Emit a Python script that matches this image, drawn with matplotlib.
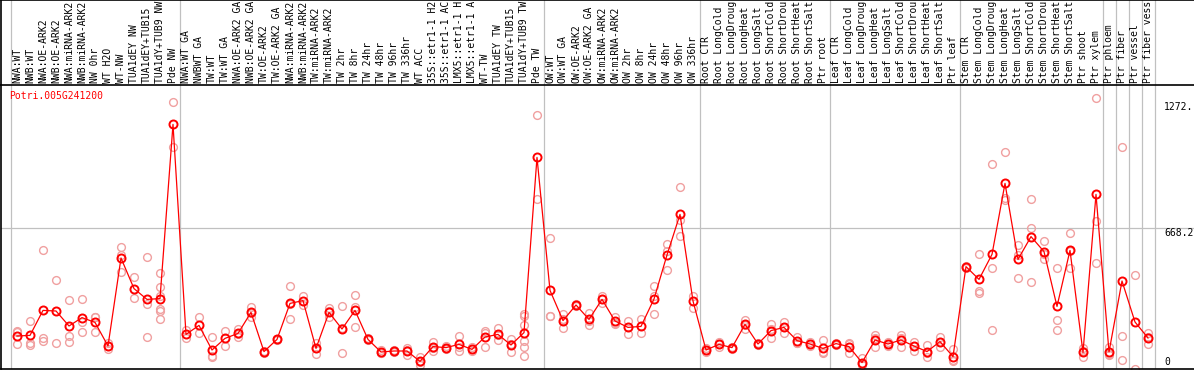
"""Expression profile of Potri.005G241200 across poplar samples."""

import matplotlib

matplotlib.use("Agg")
import matplotlib.pyplot as plt
import numpy as np

W, H = 1194, 370

GENE = "Potri.005G241200"

labels = [
    "NWA:WT", "NWB:WT", "NWA:OE-ARK2", "NWB:OE-ARK2", "NWA:miRNA-ARK2", "NWB:miRNA-ARK2",
    "NW 0hr", "WT H2O", "WT-NW", "TUA1dEY NW", "TUA1dEY+TUB15", "TUA1dY+TUB9 NW", "Pde NW",
    "NWA:WT GA", "NWBWT GA", "TW:WT", "TW:WT GA", "NWA:OE-ARK2 GA", "NWB:OE-ARK2 GA",
    "TW:OE-ARK2", "TW:OE-ARK2 GA", "NWA:miRNA-ARK2", "NWB:miRNA-ARK2", "TW:miRNA-ARK2",
    "TW:miRNA-ARK2", "TW 2hr", "TW 8hr", "TW 24hr", "TW 48hr", "TW 96hr", "TW 336hr",
    "WT ACC", "35S::etr1-1 H2", "35S::etr1-1 AC", "LMX5::etr1-1 H", "LMX5::etr1-1 A",
    "WT-TW", "TUA1dEY TW", "TUA1dEY+TUB15", "TUA1dY+TUB9 TW", "Pde TW",
    "OW:WT", "OW:WT GA", "OW:OE-ARK2", "OW:OE-ARK2 GA", "OW:miRNA-ARK2", "OW:miRNA-ARK2",
    "OW 2hr", "OW 8hr", "OW 24hr", "OW 48hr", "OW 96hr", "OW 336hr",
    "Root CTR", "Root LongCold", "Root LongDroug", "Root LongHeat", "Root LongSalt",
    "Root ShortCold", "Root ShortDrou", "Root ShortHeat", "Root ShortSalt", "Ptr root",
    "Leaf CTR", "Leaf LongCold", "Leaf LongDroug", "Leaf LongHeat", "Leaf LongSalt",
    "Leaf ShortCold", "Leaf ShortDrou", "Leaf ShortHeat", "Leaf ShortSalt", "Ptr leaf",
    "Stem CTR", "Stem LongCold", "Stem LongDroug", "Stem LongHeat", "Stem LongSalt",
    "Stem ShortCold", "Stem ShortDrou", "Stem ShortHeat", "Stem ShortSalt", "Ptr shoot",
    "Ptr xylem", "Ptr phloem", "Ptr fiber", "Ptr vessel", "Ptr fiber vess",
]

means = [
    128, 131, 256, 253, 178, 220, 196, 78, 518, 365, 311, 315, 1186,
    136, 181, 58, 116, 141, 246, 50, 111, 291, 305, 66, 246, 163, 256, 111, 48, 53, 53,
    1, 75, 70, 86, 61, 123, 136, 83, 145, 1021,
    356, 205, 283, 211, 311, 203, 171, 176, 313, 533, 736, 303,
    58, 86, 70, 186, 88, 155, 171, 105, 88, 66,
    90, 75, -5, 108, 88, 108, 78, 50, 100, 25,
    475, 411, 536, 891, 511, 625, 550, 276, 556, 46,
    836, 48, 403, 198, 118,
]

replicates = [
    [155, 148, 86], [203, 91, 83], [556, 116, 103], [406, 91], [306, 128, 96],
    [315, 196, 150], [225, 221, 146], [91, 61, 80], [571, 535, 450], [421, 316],
    [521, 290, 121], [441, 375, 330, 263, 255, 211], [1296, 1075],
    [158, 116], [221, 141], [121, 28, 25], [155, 78], [161, 125, 137], [275, 221, 242],
    [55, 45, 50], [111, 108, 114], [376, 211, 286], [328, 283], [91, 38, 69],
    [266, 221, 251], [278, 41, 170], [331, 275, 171], [111, 106, 116], [58, 42, 44],
    [60, 48, 51], [70, 57, 33], [25, -3, -19], [100, 55, 70], [78, 62, 70],
    [128, 55, 75], [71, 51, 61], [155, 71, 143], [168, 108, 132], [111, 50, 88],
    [238, 230, 183, 105, 75, 28], [1231, 811],
    [616, 226, 226], [238, 166, 211], [290, 276], [245, 185, 203], [330, 291, 312],
    [225, 190, 194], [205, 136], [213, 141], [376, 330, 238], [588, 553, 458],
    [871, 708, 628], [330, 266],
    [70, 48, 56], [100, 72, 86], [75, 65, 70], [208, 165, 185], [93, 83, 88],
    [186, 116, 163], [200, 141, 172], [125, 95, 95], [100, 76, 88], [108, 41, 49],
    [95, 85, 90], [95, 41, 89], [16, -17, -14], [133, 75, 116], [98, 78, 88],
    [133, 75, 116], [100, 55, 79], [83, 25, 42], [125, 75, 100], [61, 5, 9],
    [480, 470], [536, 345, 352], [988, 466, 158], [1046, 808, 819], [583, 533, 416],
    [811, 666, 396], [603, 511, 536], [466, 208, 158], [645, 470, 553], [66, 21, 51],
    [1316, 705, 491], [73, 33, 38], [1071, 128, 8], [431, -39], [145, 88, 121],
]

# first sample of each block; a grey rule is drawn before each
group_starts = [0, 13, 41, 53, 63, 73, 84, 85, 86, 87, 88]
y_ticks = [1272, 668.2, 0]
y_tick_text = ["1272.", "668.2", "0"]

GRID = "#c0c0c0"
REP = "#f0a0a0"
FONT = "DejaVu Sans Mono"


def px_axes(fig, left, top, right, bottom):
    return fig.add_axes([left / W, 1 - bottom / H, (right - left) / W, (bottom - top) / H])


fig = plt.figure(figsize=(W / 100, H / 100), dpi=100)
x = np.arange(len(labels))
xlim = ((1 - 17) / 13, (W - 17) / 13)

# header strip with sample names
head = px_axes(fig, 1, 0, W, 85)
head.set_xlim(*xlim)
head.set_ylim(85, 0)
head.set_xticks([]); head.set_yticks([])
for name in ("right", "bottom"):
    head.spines[name].set_visible(False)
for s in ("left", "top"):
    head.spines[s].set_color("black"); head.spines[s].set_linewidth(1.2)
for g in group_starts:
    head.axvline(g - 0.5, color=GRID, lw=0.9)
for xi, name in zip(x, labels):
    head.text(xi, 83, name, rotation=90, ha="center", va="bottom",
              fontsize=7, family=FONT, color="black")

# main plot
ax = px_axes(fig, 1, 85, W, 369)
ax.set_xlim(*xlim)
ax.set_ylim(-37, 1383)
ax.set_xticks([]); ax.set_yticks([])
ax.spines["right"].set_visible(False)
for s in ("left", "top", "bottom"):
    ax.spines[s].set_color("black"); ax.spines[s].set_linewidth(1.2)
for g in group_starts:
    ax.axvline(g - 0.5, color=GRID, lw=0.9, zorder=1)
ax.axhline(y_ticks[1], color=GRID, lw=0.9, zorder=1)

rx = [xi for xi, reps in zip(x, replicates) for _ in reps]
ry = [v for reps in replicates for v in reps]
ax.plot(rx, ry, "o", ms=5.6, mfc="none", mec=REP, mew=1.0, zorder=2)
ax.plot(x, means, color="red", lw=0.9, marker="o", ms=5.8, mfc="none",
        mec="red", mew=1.4, zorder=3)

label_x = (1164 - 17) / 13
ax.text(label_x, y_ticks[0], y_tick_text[0], ha="left", va="center", fontsize=7, family=FONT)
ax.text(label_x, y_ticks[1], y_tick_text[1], ha="left", va="top", fontsize=7, family=FONT)
ax.text(label_x, y_ticks[2], y_tick_text[2], ha="left", va="center", fontsize=7, family=FONT)
ax.text(8 / W, 0.98, GENE, transform=ax.transAxes, ha="left", va="top",
        fontsize=7, family=FONT, color="red")

fig.savefig("out.png", dpi=100)
